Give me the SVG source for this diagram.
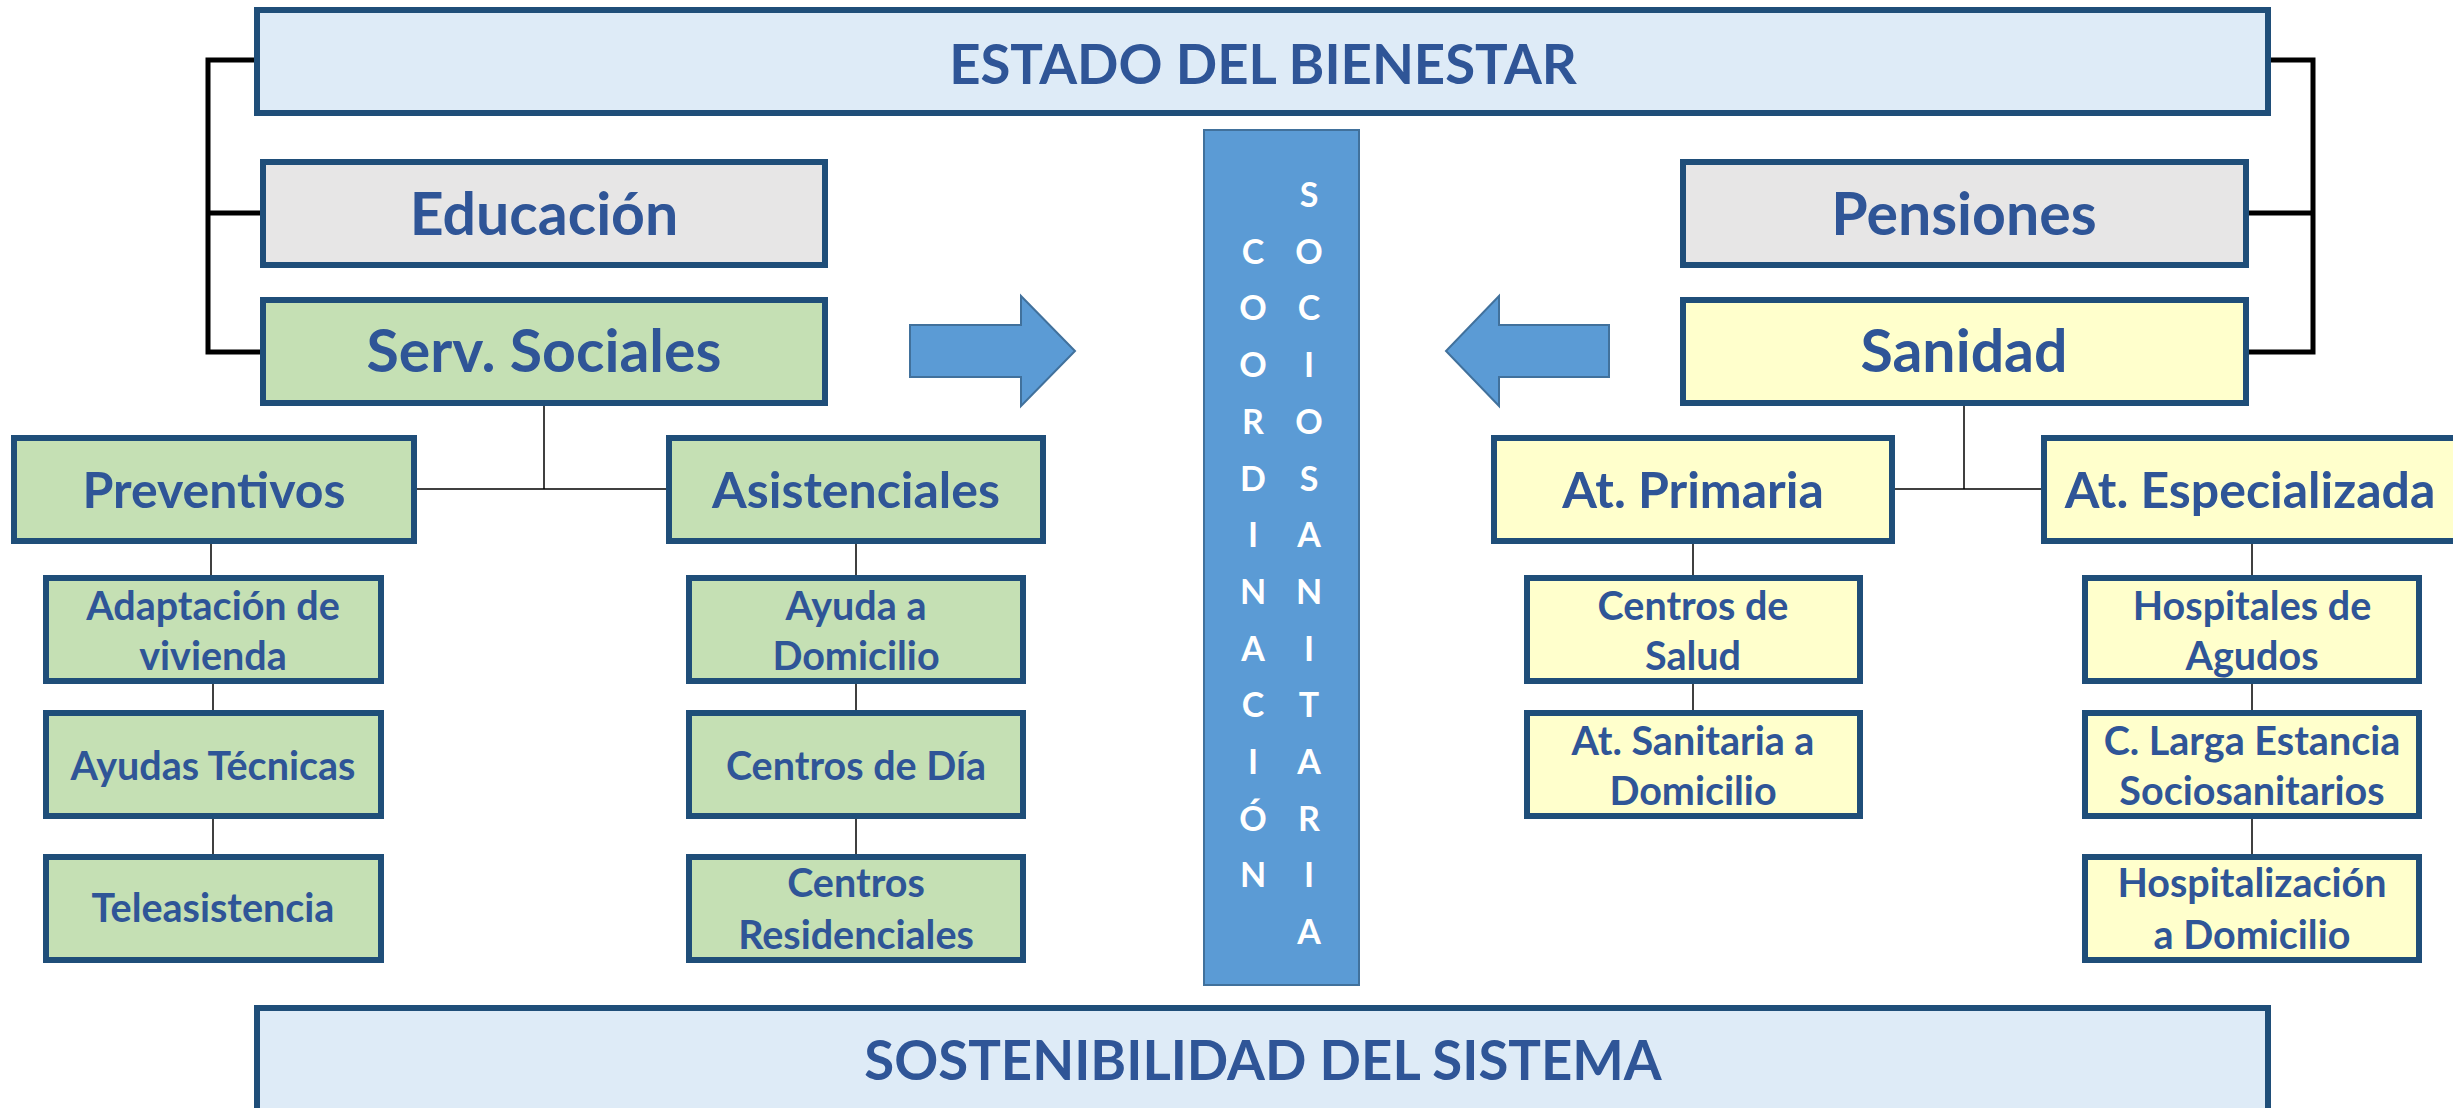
<svg xmlns="http://www.w3.org/2000/svg" width="2453" height="1108" viewBox="0 0 2453 1108">
<style>
.box{stroke:#1F4E79;stroke-width:6}
.blue{fill:#DEEBF7}.grey{fill:#E7E6E6}.green{fill:#C5E0B4}.yellow{fill:#FFFFCC}
text{font-family:Lato,"Liberation Sans",sans-serif;font-weight:bold;fill:#2F5597;text-anchor:middle}
.t1{font-size:54.5px}.t2{font-size:59px}.t3{font-size:50px}.t4{font-size:39.5px}
.v{font-size:34px;fill:#FFFFFF}
.thin{stroke:#000;stroke-width:1.5;fill:none}
.thick{stroke:#000;stroke-width:5;fill:none}
.arrow{fill:#5B9BD5;stroke:#41719C;stroke-width:2}
</style>
<rect width="2453" height="1108" fill="#FFFFFF"/>
<g id="connectors">
<polyline class="thick" points="255,60 208,60 208,352 260,352"/>
<line class="thick" x1="208" y1="213" x2="260" y2="213"/>
<polyline class="thick" points="2271,60 2313,60 2313,352 2249,352"/>
<line class="thick" x1="2313" y1="213" x2="2249" y2="213"/>
<line class="thin" x1="544" y1="406" x2="544" y2="489"/>
<line class="thin" x1="416" y1="489" x2="666" y2="489"/>
<line class="thin" x1="211" y1="544" x2="211" y2="575"/>
<line class="thin" x1="213" y1="684" x2="213" y2="710"/>
<line class="thin" x1="213" y1="819" x2="213" y2="854"/>
<line class="thin" x1="856" y1="544" x2="856" y2="575"/>
<line class="thin" x1="856" y1="684" x2="856" y2="710"/>
<line class="thin" x1="856" y1="819" x2="856" y2="854"/>
<line class="thin" x1="1964" y1="406" x2="1964" y2="489"/>
<line class="thin" x1="1895" y1="489" x2="2041" y2="489"/>
<line class="thin" x1="1693" y1="544" x2="1693" y2="575"/>
<line class="thin" x1="1693" y1="684" x2="1693" y2="710"/>
<line class="thin" x1="2252" y1="544" x2="2252" y2="575"/>
<line class="thin" x1="2252" y1="684" x2="2252" y2="710"/>
<line class="thin" x1="2252" y1="819" x2="2252" y2="854"/>
</g>
<g id="estado"><rect class="box blue" x="257" y="10" width="2011" height="103"/><text class="t1" x="1263" y="84">ESTADO DEL BIENESTAR</text></g>
<g id="educacion"><rect class="box grey" x="263" y="162" width="562" height="103"/><text class="t2" x="544" y="235">Educación</text></g>
<g id="servsociales"><rect class="box green" x="263" y="300" width="562" height="103"/><text class="t2" x="544" y="372">Serv. Sociales</text></g>
<g id="pensiones"><rect class="box grey" x="1683" y="162" width="563" height="103"/><text class="t2" x="1964" y="235">Pensiones</text></g>
<g id="sanidad"><rect class="box yellow" x="1683" y="300" width="563" height="103"/><text class="t2" x="1964" y="372">Sanidad</text></g>
<g id="arrow-right"><polygon class="arrow" points="910,325 1021,325 1021,296 1075,351 1021,406 1021,377 910,377"/></g>
<g id="arrow-left"><polygon class="arrow" points="1609,325 1499,325 1499,296 1446,351 1499,406 1499,377 1609,377"/></g>
<g id="coordinacion">
<rect x="1204" y="130" width="155" height="855" fill="#5B9BD5" stroke="#41719C" stroke-width="2"/>
<text class="v" x="1253" y="264">C</text>
<text class="v" x="1253" y="320">O</text>
<text class="v" x="1253" y="377">O</text>
<text class="v" x="1253" y="434">R</text>
<text class="v" x="1253" y="491">D</text>
<text class="v" x="1253" y="547">I</text>
<text class="v" x="1253" y="604">N</text>
<text class="v" x="1253" y="661">A</text>
<text class="v" x="1253" y="717">C</text>
<text class="v" x="1253" y="774">I</text>
<text class="v" x="1253" y="831">Ó</text>
<text class="v" x="1253" y="887">N</text>
<text class="v" x="1309" y="207">S</text>
<text class="v" x="1309" y="264">O</text>
<text class="v" x="1309" y="320">C</text>
<text class="v" x="1309" y="377">I</text>
<text class="v" x="1309" y="434">O</text>
<text class="v" x="1309" y="491">S</text>
<text class="v" x="1309" y="547">A</text>
<text class="v" x="1309" y="604">N</text>
<text class="v" x="1309" y="661">I</text>
<text class="v" x="1309" y="717">T</text>
<text class="v" x="1309" y="774">A</text>
<text class="v" x="1309" y="831">R</text>
<text class="v" x="1309" y="887">I</text>
<text class="v" x="1309" y="944">A</text>
</g>
<g id="preventivos"><rect class="box green" x="14" y="438" width="400" height="103"/><text class="t3" x="214" y="508">Preventivos</text></g>
<g id="asistenciales"><rect class="box green" x="669" y="438" width="374" height="103"/><text class="t3" x="856" y="508">Asistenciales</text></g>
<g id="atprimaria"><rect class="box yellow" x="1494" y="438" width="398" height="103"/><text class="t3" x="1693" y="508">At. Primaria</text></g>
<g id="atespecializada"><rect class="box yellow" x="2044" y="438" width="420" height="103"/><text class="t3" x="2250" y="508">At. Especializada</text></g>
<g id="adaptacion"><rect class="box green" x="46" y="578" width="335" height="103"/><text class="t4" x="213" y="620">Adaptación de</text><text class="t4" x="213" y="670">vivienda</text></g>
<g id="ayudastecnicas"><rect class="box green" x="46" y="713" width="335" height="103"/><text class="t4" x="213" y="780">Ayudas Técnicas</text></g>
<g id="teleasistencia"><rect class="box green" x="46" y="857" width="335" height="103"/><text class="t4" x="213" y="922">Teleasistencia</text></g>
<g id="ayudadomicilio"><rect class="box green" x="689" y="578" width="334" height="103"/><text class="t4" x="856" y="620">Ayuda a</text><text class="t4" x="856" y="670">Domicilio</text></g>
<g id="centrosdia"><rect class="box green" x="689" y="713" width="334" height="103"/><text class="t4" x="856" y="780">Centros de Día</text></g>
<g id="centrosresidenciales"><rect class="box green" x="689" y="857" width="334" height="103"/><text class="t4" x="856" y="897">Centros</text><text class="t4" x="856" y="949">Residenciales</text></g>
<g id="centrossalud"><rect class="box yellow" x="1527" y="578" width="333" height="103"/><text class="t4" x="1693" y="620">Centros de</text><text class="t4" x="1693" y="670">Salud</text></g>
<g id="atsanitaria"><rect class="box yellow" x="1527" y="713" width="333" height="103"/><text class="t4" x="1693" y="755">At. Sanitaria a</text><text class="t4" x="1693" y="805">Domicilio</text></g>
<g id="hospitalesagudos"><rect class="box yellow" x="2085" y="578" width="334" height="103"/><text class="t4" x="2252" y="620">Hospitales de</text><text class="t4" x="2252" y="670">Agudos</text></g>
<g id="clargaestancia"><rect class="box yellow" x="2085" y="713" width="334" height="103"/><text class="t4" x="2252" y="755">C. Larga Estancia</text><text class="t4" x="2252" y="805">Sociosanitarios</text></g>
<g id="hospitalizacion"><rect class="box yellow" x="2085" y="857" width="334" height="103"/><text class="t4" x="2252" y="897">Hospitalización</text><text class="t4" x="2252" y="949">a Domicilio</text></g>
<g id="sostenibilidad"><rect class="box blue" x="257" y="1008" width="2011" height="130"/><text class="t1" x="1263" y="1080">SOSTENIBILIDAD DEL SISTEMA</text></g>
</svg>
